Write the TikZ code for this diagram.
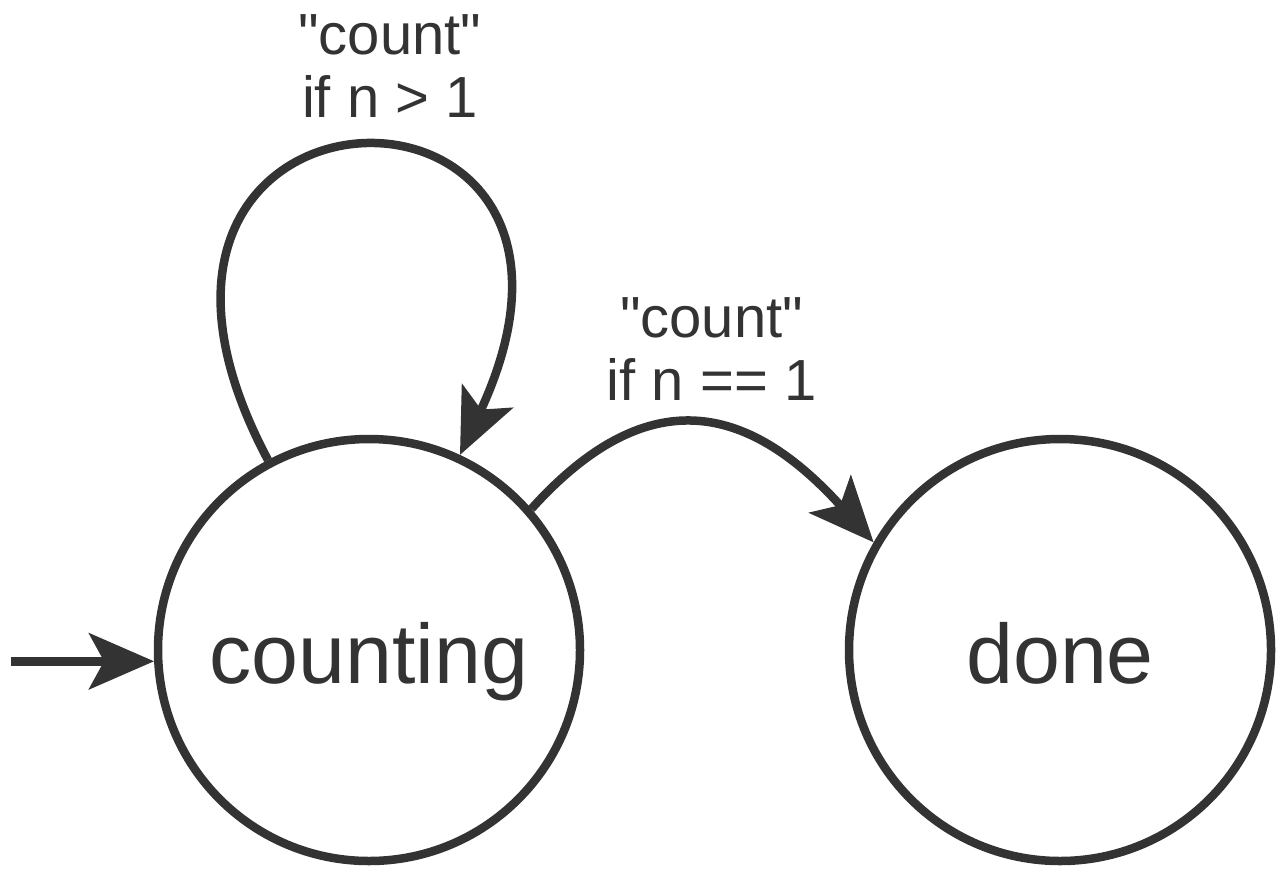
\documentclass[tikz,border=0pt]{standalone}
\usepackage{fontspec}
\setmainfont{Liberation Sans}[Ligatures=TeXOff]
\usetikzlibrary{arrows.meta,automata,positioning}
\definecolor{ink}{HTML}{333333}

\begin{document}
\begin{tikzpicture}[->,>={Stealth[length=6.5mm,width=5.6mm,inset=1.5mm]},
    line width=0.85mm,draw=ink,node distance=6.91cm,
    every state/.style={draw=ink,line width=0.85mm,minimum size=4.22cm,
      inner sep=0pt,font=\fontsize{24}{28}\selectfont,text=ink,
      text height=0.9cm,text depth=0.24cm},
    lbl/.style={font=\fontsize{16.5}{18}\selectfont,text=ink,
      align=center,inner sep=2pt}]

  \useasboundingbox (0,0) rectangle (12.8,-8.75);

  \node[state] (counting) at (3.69,-6.50) {counting};
  \node[state] (done) [right of=counting] {done};
  \coordinate[left=1.43cm of counting.183] (entry);

  \path
  (entry) edge (counting.183)
  (counting) edge[out=118, in=65, distance=4.6cm]
    node[lbl, above, xshift=0.34cm, yshift=0.2cm] {"count"\\if n > 1} (counting)
  (counting.41) edge[out=48, in=132, distance=1.8cm]
    node[lbl, above, xshift=0.09cm, yshift=0.13cm] {"count"\\if n == 1} (done.150);

\end{tikzpicture}
\end{document}
